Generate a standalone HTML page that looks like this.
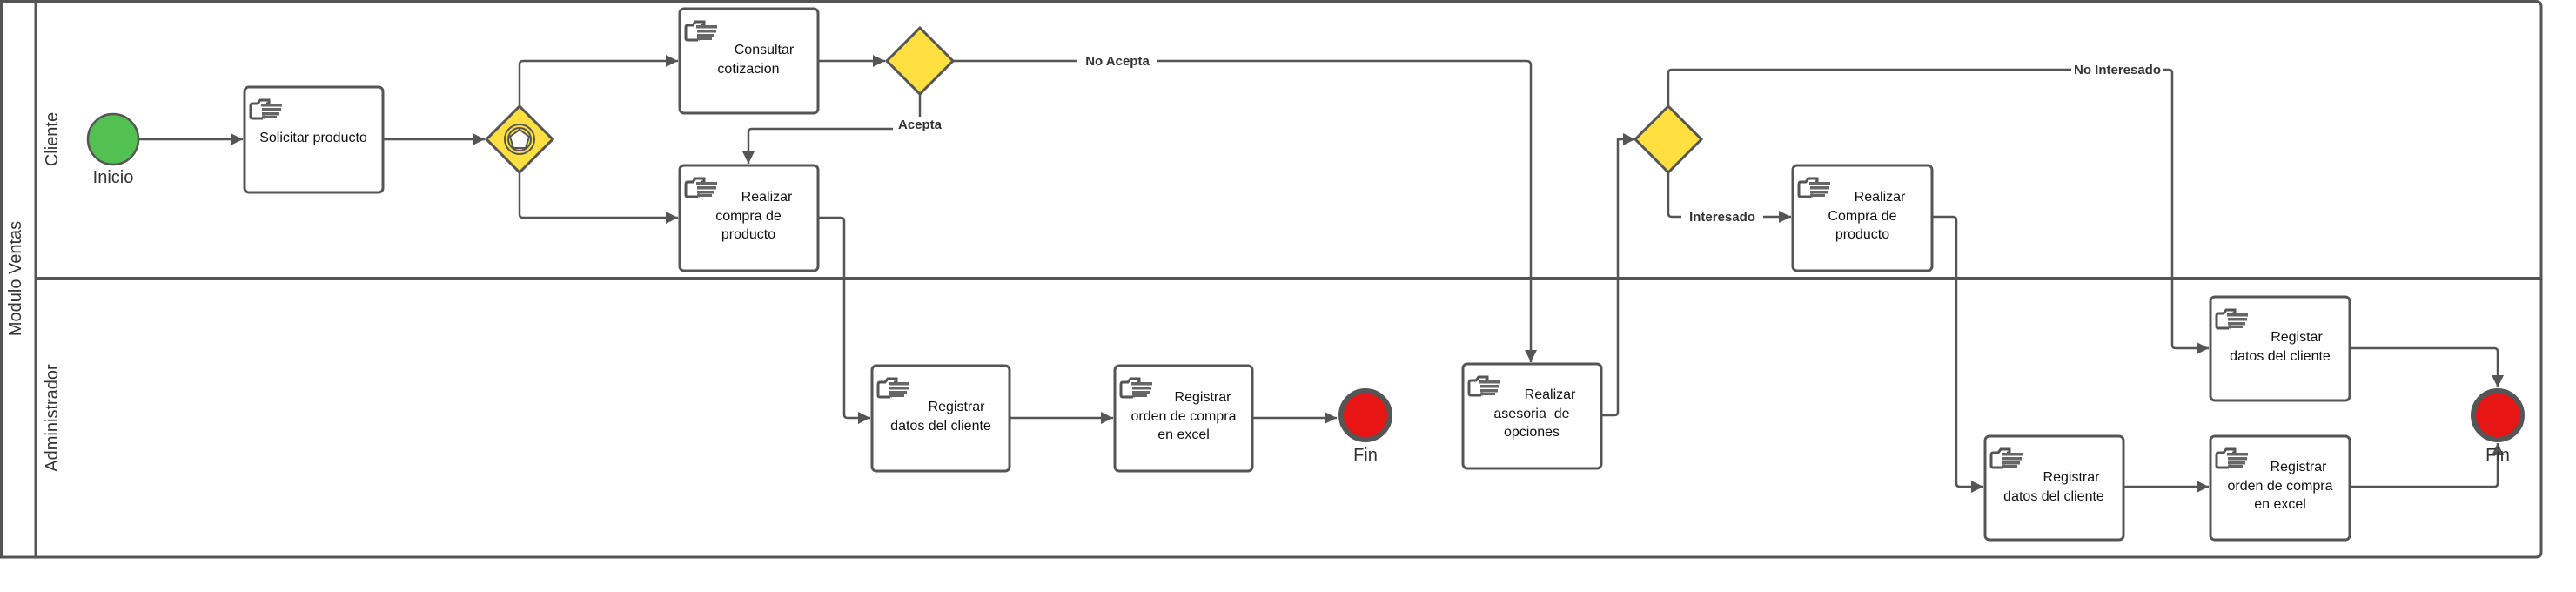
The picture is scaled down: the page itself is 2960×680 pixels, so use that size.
<!DOCTYPE html>
<html><head><meta charset="utf-8"><style>
html,body{margin:0;padding:0;background:#fff;}
svg{display:block;}
text{font-family:"Liberation Sans",sans-serif;}
</style></head><body>
<svg width="2960" height="680" viewBox="0 0 2960 680" xmlns="http://www.w3.org/2000/svg">
<defs>
<marker id="ar" viewBox="0 0 10 10" refX="10" refY="5" markerWidth="10" markerHeight="10" markerUnits="userSpaceOnUse" orient="auto">
<path d="M0,0 L10,5 L0,10 z" fill="#555"/></marker>
<marker id="arb" viewBox="0 0 10 10" refX="10" refY="5" markerWidth="14" markerHeight="14" markerUnits="userSpaceOnUse" orient="auto">
<path d="M0,0 L10,5 L0,10 z" fill="#555"/></marker>
<g id="ic">
<path d="M2,6 h6 l3,-4 h10 v4 h-3 M2,6 q-2,0 -2,3 v12 q0,2 2,2 h12 M14,23 l2,-3" fill="none" stroke="#555" stroke-width="3"/>
<rect x="12" y="6" width="24" height="3.5" fill="#666"/>
<rect x="13" y="11" width="22" height="3.5" fill="#666"/>
<rect x="13" y="16" width="20" height="3.5" fill="#666"/>
<rect x="13" y="20" width="17" height="3" fill="#666"/>
</g>
</defs>
<!-- pool -->
<path d="M1.5,1.5 H2914 Q2920,1.5 2920,8 V634 Q2920,640 2914,640 H1.5 Z" fill="#fff" stroke="#555" stroke-width="3"/>
<line x1="41" y1="1.5" x2="41" y2="640" stroke="#555" stroke-width="3"/>
<line x1="41" y1="320" x2="2920" y2="320" stroke="#555" stroke-width="4"/>
<text x="18" y="320" font-size="20" fill="#333" text-anchor="middle" dominant-baseline="central" transform="rotate(-90 18 320)">Modulo Ventas</text>
<text x="60" y="160" font-size="20" fill="#333" text-anchor="middle" dominant-baseline="central" transform="rotate(-90 60 160)">Cliente</text>
<text x="60" y="480" font-size="20" fill="#333" text-anchor="middle" dominant-baseline="central" transform="rotate(-90 60 480)">Administrador</text>

<g fill="none" stroke="#555" stroke-width="2.5">
<!-- connectors -->
<path d="M160,160 H279" marker-end="url(#arb)"/>
<path d="M441,160 H557" marker-end="url(#arb)"/>
<path d="M597,122 V74 Q597,70 601,70 H779" marker-end="url(#arb)"/>
<path d="M597,198 V246 Q597,250 601,250 H779" marker-end="url(#arb)"/>
<path d="M941,70 H1017" marker-end="url(#arb)"/>
<path d="M1057,108 V148 H864 Q860,148 860,152 V188" marker-end="url(#arb)"/>
<path d="M1095,70 H1754 Q1759,70 1759,75 V416" marker-end="url(#arb)"/>
<path d="M941,250 H966 Q970,250 970,254 V476 Q970,480 974,480 H1000" marker-end="url(#arb)"/>
<path d="M1161,480 H1279" marker-end="url(#arb)"/>
<path d="M1440,480 H1536" marker-end="url(#arb)"/>
<path d="M1841,477 H1855 Q1859,477 1859,473 V160 H1879" marker-end="url(#arb)"/>
<path d="M1917,122 V84 Q1917,80 1921,80 H2492 Q2496,80 2496,84 V396 Q2496,400 2500,400 H2538" marker-end="url(#arb)"/>
<path d="M1917,198 V245 Q1917,249 1921,249 H2058" marker-end="url(#arb)"/>
<path d="M2221,249 H2244 Q2248,249 2248,253 V555 Q2248,559 2252,559 H2279" marker-end="url(#arb)"/>
<path d="M2441,559 H2538" marker-end="url(#arb)"/>
<path d="M2701,400 H2866 Q2870,400 2870,404 V445" marker-end="url(#arb)"/>
<path d="M2701,559 H2866 Q2870,559 2870,555 V509" marker-end="url(#arb)"/>
</g>

<!-- edge labels -->
<g font-size="15" font-weight="bold" fill="#333" text-anchor="middle">
<rect x="1238" y="60" width="92" height="18" fill="#fff"/>
<text x="1284" y="75">No Acepta</text>
<rect x="1026" y="134" width="62" height="18" fill="#fff"/>
<text x="1057" y="148">Acepta</text>
<rect x="2380" y="70" width="106" height="18" fill="#fff"/>
<text x="2433" y="85">No Interesado</text>
<rect x="1932" y="240" width="94" height="18" fill="#fff"/>
<text x="1979" y="254">Interesado</text>
</g>

<!-- start -->
<circle cx="130" cy="160" r="29" fill="#52c152" stroke="#555" stroke-width="2.5"/>
<text x="130" y="210" font-size="20" fill="#333" text-anchor="middle">Inicio</text>

<!-- gateways -->
<path d="M597,122 L635,160 L597,198 L559,160 Z" fill="#ffe040" stroke="#555" stroke-width="3"/>
<circle cx="597" cy="160" r="17" fill="none" stroke="#555" stroke-width="2"/>
<circle cx="597" cy="160" r="13" fill="none" stroke="#555" stroke-width="2"/>
<path d="M597,149 L608,157 L604,170 L590,170 L586,157 Z" fill="#fff" stroke="#555" stroke-width="2"/>
<path d="M1057,32 L1095,70 L1057,108 L1019,70 Z" fill="#ffe040" stroke="#555" stroke-width="3"/>
<path d="M1917,122 L1955,160 L1917,198 L1879,160 Z" fill="#ffe040" stroke="#555" stroke-width="3"/>

<!-- tasks -->
<g fill="#fff" stroke="#555" stroke-width="3">
<rect x="281" y="100" width="159" height="121" rx="5"/>
<rect x="781" y="10" width="159" height="120" rx="5"/>
<rect x="781" y="190" width="159" height="121" rx="5"/>
<rect x="2060" y="190" width="160" height="121" rx="5"/>
<rect x="1002" y="420" width="158" height="121" rx="5"/>
<rect x="1281" y="420" width="158" height="121" rx="5"/>
<rect x="1681" y="418" width="159" height="120" rx="5"/>
<rect x="2540" y="341" width="160" height="119" rx="5"/>
<rect x="2281" y="501" width="159" height="119" rx="5"/>
<rect x="2540" y="501" width="160" height="119" rx="5"/>
</g>
<use href="#ic" x="288" y="113"/>
<use href="#ic" x="788" y="23"/>
<use href="#ic" x="788" y="203"/>
<use href="#ic" x="2067" y="203"/>
<use href="#ic" x="1009" y="433"/>
<use href="#ic" x="1288" y="433"/>
<use href="#ic" x="1688" y="431"/>
<use href="#ic" x="2547" y="354"/>
<use href="#ic" x="2288" y="514"/>
<use href="#ic" x="2547" y="514"/>

<g font-size="16" fill="#111" text-anchor="middle">
<text x="360" y="163">Solicitar producto</text>
<text x="878" y="62">Consultar</text><text x="860" y="84">cotizacion</text>
<text x="881" y="231">Realizar</text><text x="860" y="253">compra de</text><text x="860" y="274">producto</text>
<text x="2160" y="231">Realizar</text><text x="2140" y="253">Compra de</text><text x="2140" y="274">producto</text>
<text x="1099" y="472">Registrar</text><text x="1081" y="494">datos del cliente</text>
<text x="1382" y="461">Registrar</text><text x="1360" y="483">orden de compra</text><text x="1360" y="504">en excel</text>
<text x="1781" y="458">Realizar</text><text x="1760" y="480">asesoria&#160; de</text><text x="1760" y="501">opciones</text>
<text x="2639" y="392">Registar</text><text x="2620" y="414">datos del cliente</text>
<text x="2380" y="553">Registrar</text><text x="2360" y="575">datos del cliente</text>
<text x="2641" y="541">Registrar</text><text x="2620" y="563">orden de compra</text><text x="2620" y="584">en excel</text>
</g>

<!-- end events -->
<circle cx="1569" cy="477" r="28" fill="#e81515" stroke="#555" stroke-width="6"/>
<text x="1569" y="529" font-size="20" fill="#333" text-anchor="middle">Fin</text>
<circle cx="2870" cy="477" r="28" fill="#e81515" stroke="#555" stroke-width="6"/>
<text x="2870" y="529" font-size="20" fill="#333" text-anchor="middle">Fin</text>
</svg>
</body></html>
